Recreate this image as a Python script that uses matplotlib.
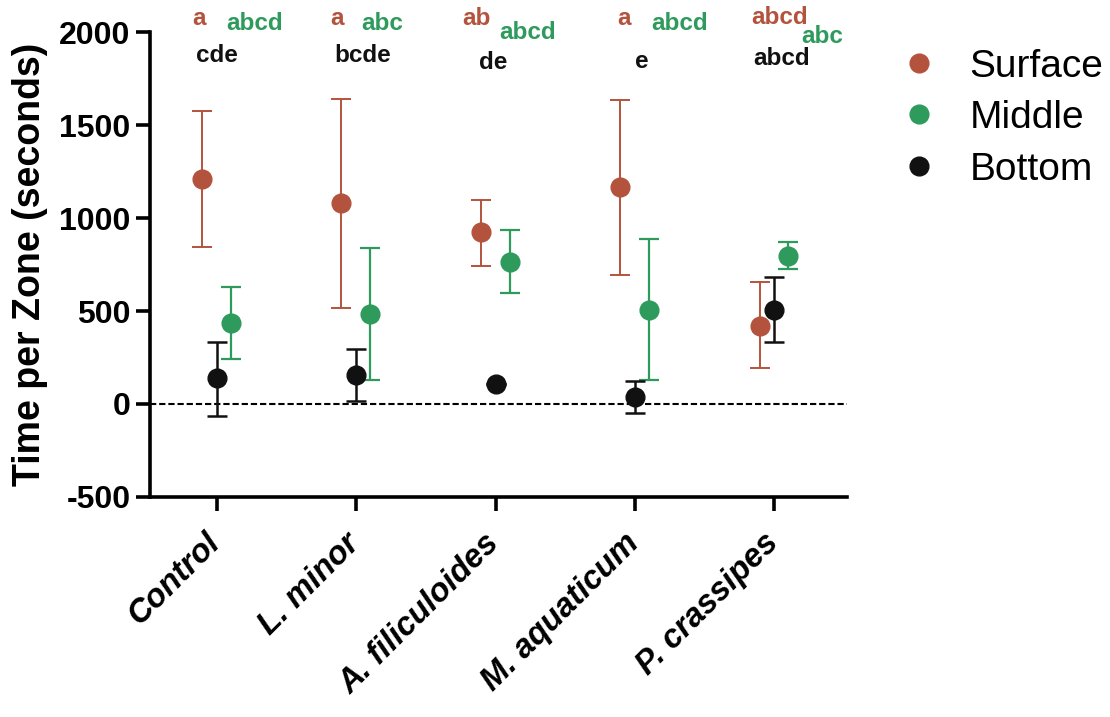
import matplotlib
matplotlib.use("Agg")
import matplotlib.pyplot as plt
import matplotlib.transforms as mtransforms
import numpy as np
from matplotlib.lines import Line2D

plt.rcParams['font.family'] = ['Liberation Sans', 'DejaVu Sans']

categories = ["Control", "L. minor", "A. filiculoides", "M. aquaticum", "P. crassipes"]

surface_mean = [1210, 1083, 923, 1165, 421]
surface_low = [844, 518, 744, 694, 192]
surface_high = [1575, 1642, 1097, 1638, 654]

middle_mean = [437, 482, 765, 505, 797]
middle_low = [244, 127, 598, 127, 724]
middle_high = [631, 839, 935, 885, 869]

bottom_mean = [138, 156, 106, 39, 505]
bottom_low = [-65, 16, 106, -47, 332]
bottom_high = [335, 294, 106, 124, 681]

surface_letters = ["a", "a", "ab", "a", "abcd"]
middle_letters = ["abcd", "abc", "abcd", "abcd", "abc"]
bottom_letters = ["cde", "bcde", "de", "e", "abcd"]

c_surf = "#B4533D"
c_mid = "#2E9A5C"
c_bot = "#111111"

fig = plt.figure(figsize=(11.10, 7.17), dpi=100)
ax = fig.add_axes([0.135, 0.307, 0.628, 0.648])

x = np.arange(len(categories))
offs = {"s": -0.107, "m": 0.1, "b": 0.0}

def draw(mean, low, high, off, col, lw):
    mean = np.array(mean, float)
    yerr = np.vstack([mean - np.array(low, float), np.array(high, float) - mean])
    ax.errorbar(x + off, mean, yerr=yerr, fmt='o', color=col, ecolor=col,
                elinewidth=lw, capsize=7.5, capthick=lw, markersize=13.5,
                zorder=3, clip_on=False)

draw(surface_mean, surface_low, surface_high, offs["s"], c_surf, 1.4)
draw(middle_mean, middle_low, middle_high, offs["m"], c_mid, 1.6)
draw(bottom_mean, bottom_low, bottom_high, offs["b"], c_bot, 1.8)

ax.axhline(0, color="black", linestyle=(0, (3.0, 1.4)), linewidth=1.5, zorder=1)

for s in ["top", "right"]:
    ax.spines[s].set_visible(False)
for s in ["left", "bottom"]:
    ax.spines[s].set_linewidth(2.6)
ax.tick_params(axis='both', width=2.6, length=10, direction='out', pad=2)
ax.tick_params(axis='y', pad=4)

ax.set_xlim(-0.48, 4.52)
ax.set_ylim(-500, 2000)
ax.set_yticks([-500, 0, 500, 1000, 1500, 2000])
ax.set_yticklabels(["-500", "0", "500", "1000", "1500", "2000"])
ax.set_xticks(x)
ax.set_xticklabels(categories, rotation=45, ha='right', va='top', rotation_mode='anchor',
                   fontsize=23.5, fontweight='bold', fontstyle='italic')
shift = mtransforms.ScaledTranslation(-12 / 100, -14 / 100, fig.dpi_scale_trans)
for lbl in ax.get_xticklabels():
    lbl.set_transform(lbl.get_transform() + shift)
for lbl in ax.get_yticklabels():
    lbl.set_fontsize(23)
    lbl.set_fontweight('bold')
ax.set_ylabel("Time per Zone (seconds)", fontsize=27, fontweight='bold', labelpad=8)

# letter annotations
s_dx = [-0.13, -0.14, -0.14, -0.08, 0.04]
s_y = [2075, 2075, 2075, 2075, 2082]
m_dx = [0.27, 0.19, 0.23, 0.32, 0.34]
m_y = [2045, 2045, 2000, 2045, 1978]
b_dx = [0.0, 0.05, -0.02, 0.05, 0.05]
b_y = [1876, 1876, 1840, 1845, 1860]
for i in range(len(categories)):
    ax.text(i + s_dx[i], s_y[i], surface_letters[i], color=c_surf, fontsize=17.5,
            fontweight='bold', ha='center', va='center', clip_on=False)
    ax.text(i + m_dx[i], m_y[i], middle_letters[i], color=c_mid, fontsize=17.5,
            fontweight='bold', ha='center', va='center', clip_on=False)
    ax.text(i + b_dx[i], b_y[i], bottom_letters[i], color=c_bot, fontsize=17.5,
            fontweight='bold', ha='center', va='center', clip_on=False)

handles = [Line2D([], [], marker='o', linestyle='none', color=c, markersize=13.5)
           for c in (c_surf, c_mid, c_bot)]
fig.legend(handles, ["Surface", "Middle", "Bottom"], loc='upper left',
           bbox_to_anchor=(0.80, 0.954), frameon=False, fontsize=28,
           handletextpad=0.9, labelspacing=0.4, handlelength=0.8,
           borderaxespad=0.0)

fig.savefig("out.png", dpi=100)
